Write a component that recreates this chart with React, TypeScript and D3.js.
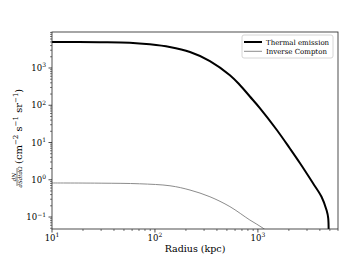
import React from "react";
import * as d3 from "d3";

const thermalR = [10, 29, 57, 89, 139, 219, 342, 535, 668, 836, 1045, 1528, 2047, 2557, 3420, 4150, 4640, 4820, 4830];
const thermalV = [5000, 4930, 4770, 4320, 3660, 2690, 1540, 640, 350, 172, 84, 21.7, 6.9, 2.82, 0.82, 0.35, 0.154, 0.094, 0.01];
const icR = [10, 30, 71, 140, 219, 342, 535, 836, 1125, 1400];
const icV = [0.82, 0.81, 0.78, 0.69, 0.53, 0.35, 0.19, 0.083, 0.05, 0.03];
const xMajor = [10, 100, 1000];
const xExp = ["1", "2", "3"];
const yMajor = [0.1, 1, 10, 100, 1000];
const yExp = ["−1", "0", "1", "2", "3"];
const legendLabels = ["Thermal emission", "Inverse Compton"];

const W = 349, H = 262;
const L = 52, R = 338, T = 32, B = 229;
const FONT = "DejaVu Serif";

export default function App() {
  const x = d3.scaleLog().domain([10, 6000]).range([L, R]);
  const y = d3.scaleLog().domain([0.0477, 9250]).range([B, T]);
  const line = d3.line<[number, number]>().x(d => x(d[0])).y(d => y(d[1])).curve(d3.curveCatmullRom.alpha(0.5));
  const thermal = line(thermalR.map((r, i) => [r, thermalV[i]]));
  const ic = line(icR.map((r, i) => [r, icV[i]]));

  const xMinor: number[] = [];
  for (let k = 1; k <= 3; k++) for (let m = 2; m <= 9; m++) { const v = m * Math.pow(10, k); if (v <= 6000) xMinor.push(v); }
  const yMinor: number[] = [];
  for (let k = -2; k <= 3; k++) for (let m = 2; m <= 9; m++) { const v = m * Math.pow(10, k); if (v >= 0.0477 && v <= 9250) yMinor.push(v); }

  const axisColor = "#222";
  return (
    <svg width={W} height={H} style={{ position: "absolute", left: 0, top: 0, background: "#fff" }} fontFamily={FONT}>
      <rect x={0} y={0} width={W} height={H} fill="#fff" />
      <defs>
        <clipPath id="plot"><rect x={L} y={T} width={R - L} height={B - T} /></clipPath>
      </defs>
      <g clipPath="url(#plot)">
        <path d={ic ?? ""} fill="none" stroke="#8c8c8c" strokeWidth={1} />
        <path d={thermal ?? ""} fill="none" stroke="#000" strokeWidth={2} />
      </g>
      <rect x={L} y={T} width={R - L} height={B - T} fill="none" stroke={axisColor} strokeWidth={0.8} />
      {xMajor.map((v, i) => (
        <g key={"xm" + i}>
          <line x1={x(v)} x2={x(v)} y1={B} y2={B + 3.5} stroke={axisColor} strokeWidth={0.8} />
          <text x={x(v)} y={240.5} textAnchor="middle" fontSize={8.5} fill="#000">
            10<tspan fontSize={6} dy={-3.5}>{xExp[i]}</tspan>
          </text>
        </g>
      ))}
      {xMinor.map((v, i) => (
        <line key={"xn" + i} x1={x(v)} x2={x(v)} y1={B} y2={B + 2} stroke={axisColor} strokeWidth={0.6} />
      ))}
      {yMajor.map((v, i) => (
        <g key={"ym" + i}>
          <line x1={L - 3.5} x2={L} y1={y(v)} y2={y(v)} stroke={axisColor} strokeWidth={0.8} />
          <text x={46} y={y(v) + 3} textAnchor="end" fontSize={8.5} fill="#000">
            10<tspan fontSize={6} dy={-3.5}>{yExp[i]}</tspan>
          </text>
        </g>
      ))}
      {yMinor.map((v, i) => (
        <line key={"yn" + i} x1={L - 2} x2={L} y1={y(v)} y2={y(v)} stroke={axisColor} strokeWidth={0.6} />
      ))}
      <text x={(L + R) / 2} y={252} textAnchor="middle" fontSize={9.5} fill="#000">Radius (kpc)</text>
      <g transform="translate(21.5,132) rotate(-90)">
        <text x={-45} y={-6} textAnchor="middle" fontSize={5.5} fill="#000" fontStyle="italic">dN</text>
        <line x1={-54} x2={-36} y1={-4.5} y2={-4.5} stroke="#000" strokeWidth={0.5} />
        <text x={-45} y={0.5} textAnchor="middle" fontSize={5.5} fill="#000" fontStyle="italic">dSdtdΩ</text>
        <text x={-32} y={0} textAnchor="start" fontSize={10} fill="#000">
          (cm<tspan fontSize={7} dy={-3.8}>−2</tspan>
          <tspan dy={3.8}> s</tspan><tspan fontSize={7} dy={-3.8}>−1</tspan>
          <tspan dy={3.8}> sr</tspan><tspan fontSize={7} dy={-3.8}>−1</tspan>
          <tspan dy={3.8}>)</tspan>
        </text>
      </g>
      <rect x={242} y={35} width={91} height={23} rx={2} fill="#fff" fillOpacity={0.8} stroke="#ccc" strokeWidth={0.8} />
      <line x1={244} x2={262} y1={42} y2={42} stroke="#000" strokeWidth={2} />
      <line x1={244} x2={262} y1={51.3} y2={51.3} stroke="#8c8c8c" strokeWidth={1} />
      <text x={266} y={44.5} fontSize={7} fill="#000">{legendLabels[0]}</text>
      <text x={266} y={54} fontSize={7} fill="#000">{legendLabels[1]}</text>
    </svg>
  );
}
